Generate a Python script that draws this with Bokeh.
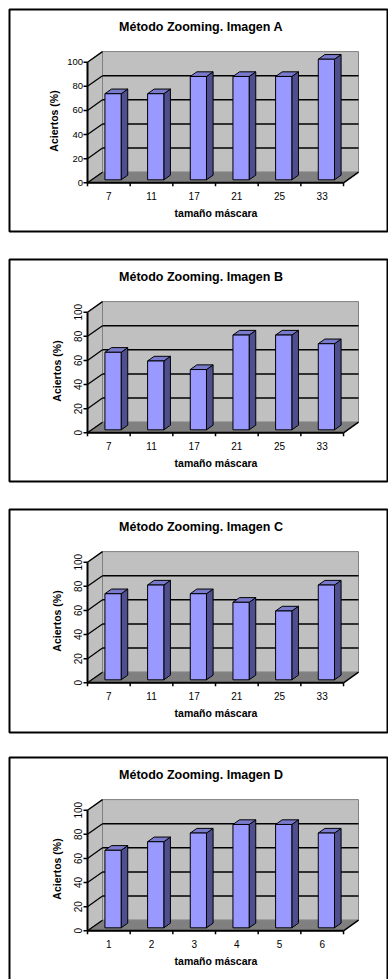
import math

from bokeh.core.properties import value
from bokeh.embed import file_html
from bokeh.layouts import column
from bokeh.models import Range1d
from bokeh.plotting import figure
from bokeh.resources import INLINE

# ---- data -------------------------------------------------------------
titles = [
    "Método Zooming. Imagen A",
    "Método Zooming. Imagen B",
    "Método Zooming. Imagen C",
    "Método Zooming. Imagen D",
]
mask_sizes = ["7", "11", "17", "21", "25", "33"]
mask_index = ["1", "2", "3", "4", "5", "6"]
aciertos_a = [71.4, 71.4, 85.7, 85.7, 85.7, 100.0]
aciertos_b = [64.3, 57.1, 50.0, 78.6, 78.6, 71.4]
aciertos_c = [71.4, 78.6, 71.4, 64.3, 57.1, 78.6]
aciertos_d = [64.3, 71.4, 78.6, 85.7, 85.7, 78.6]
y_ticks = [0, 20, 40, 60, 80, 100]
x_title = "tamaño máscara"
y_title = "Aciertos (%)"

# ---- layout / style ---------------------------------------------------
W = 388
AX0, AY0 = 87.0, 182.3        # screen position of the front-left floor corner
CAT_PX, VAL_PX = 42.67, 1.206  # pixels per category / per percent
DEPTH_PX = (15.0, 10.6)        # oblique offset of the back wall
BAR_W, BAR_D0, BAR_D = 0.38, 0.28, 0.44
FONT = value("Liberation Sans")

WALL = "#c0c0c0"
WALL_EDGE = "#808080"
FLOOR = "#808080"
BAR_FRONT = "#9999ff"
BAR_SIDE = "#4f4f8f"
BAR_TOP = "#7a7acc"


def xd(px):
    return (px - AX0) / CAT_PX


def yd(py):
    return (AY0 - py) / VAL_PX


def panel(title, cats, vals, height, box_bottom, rotated, ytitle_x):
    p = figure(width=W, height=height,
               x_range=Range1d(xd(0), xd(W)), y_range=Range1d(yd(height), yd(0)),
               x_axis_type=None, y_axis_type=None, min_border=0,
               toolbar_location=None, output_backend="svg")
    p.outline_line_color = None
    p.background_fill_color = "white"
    p.border_fill_color = "white"

    n = len(cats)
    top = y_ticks[-1]
    dx = DEPTH_PX[0] / CAT_PX
    dy = DEPTH_PX[1] / VAL_PX

    # walls and floor
    p.quad(left=dx, right=n + dx, bottom=dy, top=top + dy,
           fill_color=WALL, line_color=WALL_EDGE, line_width=1)
    p.patch([0, 0, dx, dx], [0, top, top + dy, dy],
            fill_color=WALL, line_color=WALL_EDGE, line_width=1)
    p.patch([0, n, n + dx, dx], [0, 0, dy, dy],
            fill_color=FLOOR, line_color=FLOOR, line_width=1)

    inner = y_ticks[1:-1]
    p.segment(x0=[dx] * len(inner), y0=[t + dy for t in inner],
              x1=[n + dx] * len(inner), y1=[t + dy for t in inner],
              line_color="black", line_width=1.5)
    p.segment(x0=[0] * len(y_ticks), y0=y_ticks,
              x1=[dx] * len(y_ticks), y1=[t + dy for t in y_ticks],
              line_color="black", line_width=1.3)

    # axes
    p.segment(x0=[0, 0], y0=[0, 0], x1=[0, n], y1=[top, 0],
              line_color="black", line_width=2)
    p.segment(x0=[n], y0=[0], x1=[n + dx], y1=[dy],
              line_color="black", line_width=1.5)
    p.segment(x0=[-4 / CAT_PX] * len(y_ticks), y0=y_ticks,
              x1=[0] * len(y_ticks), y1=y_ticks,
              line_color="black", line_width=1.5)
    p.segment(x0=list(range(n + 1)), y0=[0] * (n + 1),
              x1=list(range(n + 1)), y1=[-3.5 / VAL_PX] * (n + 1),
              line_color="black", line_width=1.5)

    # 3-D columns
    fx0 = BAR_D0 * dx
    fy0 = BAR_D0 * dy
    bx, by = BAR_D * dx, BAR_D * dy
    lefts = [i + 0.5 - BAR_W / 2 + fx0 for i in range(n)]
    rights = [l + BAR_W for l in lefts]
    tops = [v + fy0 for v in vals]
    p.patches(xs=[[r, r + bx, r + bx, r] for r in rights],
              ys=[[fy0, fy0 + by, t + by, t] for t in tops],
              fill_color=BAR_SIDE, line_color="black", line_width=1)
    p.patches(xs=[[l, r, r + bx, l + bx] for l, r in zip(lefts, rights)],
              ys=[[t, t, t + by, t + by] for t in tops],
              fill_color=BAR_TOP, line_color="black", line_width=1)
    p.quad(left=lefts, right=rights, bottom=fy0, top=tops,
           fill_color=BAR_FRONT, line_color="black", line_width=1)

    # labels
    p.text(x=[i + 0.5 for i in range(n)], y=[0] * n, text=cats,
           y_offset=12.7, text_align="center", text_baseline="middle",
           text_font=FONT, text_font_size="10px", text_color="black")
    if rotated:
        p.text(x=[0] * len(y_ticks), y=y_ticks, text=[str(t) for t in y_ticks],
               angle=math.pi / 2, x_offset=-10, text_align="center",
               text_baseline="middle", text_font=FONT, text_font_size="10px",
               text_color="black")
    else:
        p.text(x=[0] * len(y_ticks), y=y_ticks, text=[str(t) for t in y_ticks],
               x_offset=-4.5, text_align="right", text_baseline="middle",
               text_font=FONT, text_font_size="9.5px", text_color="black")

    p.text(x=[xd(200.5)], y=[yd(26)], text=[title], text_align="center",
           text_baseline="middle", text_font=FONT, text_font_style="bold",
           text_font_size="12.5px", text_color="black")
    p.text(x=[xd(215.5)], y=[yd(212)], text=[x_title], text_align="center",
           text_baseline="middle", text_font=FONT, text_font_style="bold",
           text_font_size="10.5px", text_color="black")
    p.text(x=[xd(ytitle_x)], y=[yd(120.5)], text=[y_title], angle=math.pi / 2,
           text_align="center", text_baseline="middle", text_font=FONT,
           text_font_style="bold", text_font_size="10.5px", text_color="black")

    # chart frame
    p.quad(left=xd(9), right=xd(387), top=yd(9), bottom=yd(box_bottom),
           fill_color=None, line_color="black", line_width=2)
    return p


figs = [
    panel(titles[0], mask_sizes, aciertos_a, 250, 231, False, 53.5),
    panel(titles[1], mask_sizes, aciertos_b, 250, 231, True, 56.3),
    panel(titles[2], mask_sizes, aciertos_c, 248, 232, True, 56.3),
    panel(titles[3], mask_index, aciertos_d, 231, 260, True, 56.3),
]

layout = column(*figs, spacing=0)
open("out.html", "w").write(file_html(layout, INLINE))
